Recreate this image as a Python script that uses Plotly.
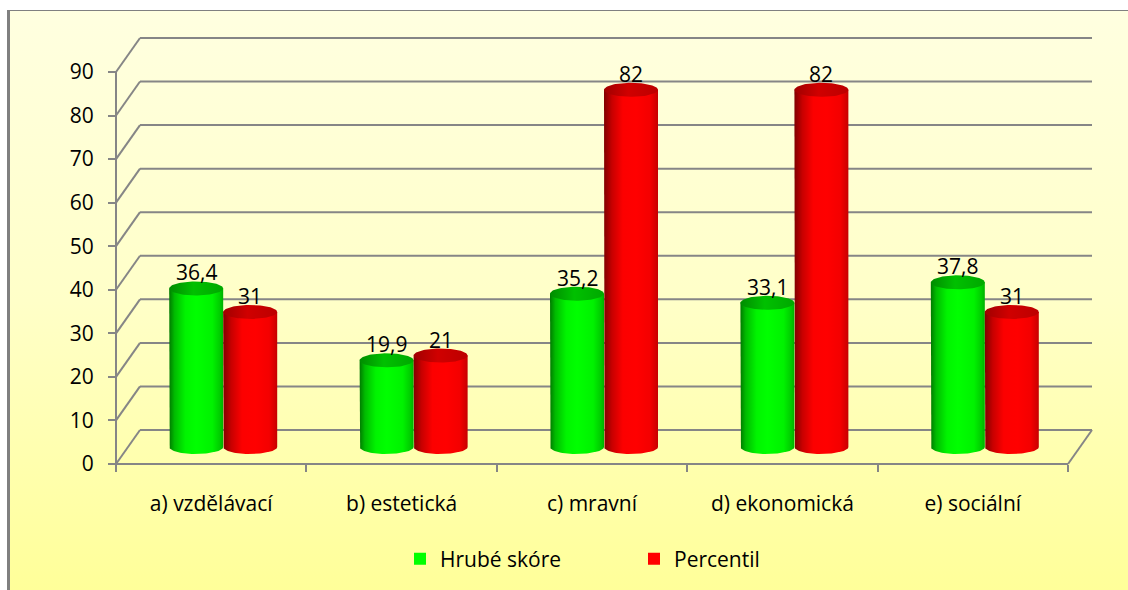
import numpy as np
import plotly.graph_objects as go

# ---- data -------------------------------------------------------------
categories = ["a) vzdělávací", "b) estetická", "c) mravní", "d) ekonomická", "e) sociální"]
hrube_skore = [36.4, 19.9, 35.2, 33.1, 37.8]
percentil = [31, 21, 82, 82, 31]
series_names = ["Hrubé skóre", "Percentil"]
y_ticks = [0, 10, 20, 30, 40, 50, 60, 70, 80, 90]

# ---- page / 3-D box geometry (pixels) ---------------------------------
W, H = 1128, 590
CAT_PX = 190.4          # width of one category along the front floor edge
UNIT_PX = 4.356         # pixels per value unit
FRONT_LEFT_PX = 116     # x of the front-left corner of the floor
FLOOR_PX = 464          # y of the front floor edge
DEPTH_DX_PX, DEPTH_DY_PX = 24, 34   # front -> back wall offset
PLOT_L, PLOT_R, PLOT_T, PLOT_B = 100, 1110, 0, 482
CYL_W_PX, CAP_RY_PX = 54, 7

GRID = "#868686"
FONT = dict(family="Open Sans, Lato, sans-serif", size=21, color="#000000")


def px_to_x(p):
    return -0.5 + (p - FRONT_LEFT_PX) / CAT_PX


def px_to_v(q):
    return (FLOOR_PX - q) / UNIT_PX


DX = DEPTH_DX_PX / CAT_PX
DY = DEPTH_DY_PX / UNIT_PX
RX = CYL_W_PX / CAT_PX / 2
RY = CAP_RY_PX / UNIT_PX
N = len(categories)

body_scales = [
    [[0, "#007a00"], [0.1, "#00bb00"], [0.3, "#00f400"], [0.5, "#00ff00"],
     [0.8, "#00f200"], [0.94, "#00cc00"], [1, "#00b000"]],
    [[0, "#800000"], [0.15, "#c80000"], [0.35, "#fc0000"], [0.6, "#ff0000"],
     [0.85, "#f40000"], [0.96, "#d40000"], [1, "#c40000"]],
]
cap_scales = [
    [[0, "#008c00"], [0.45, "#00c000"], [1, "#00a800"]],
    [[0, "#a00000"], [0.45, "#d00000"], [1, "#bc0000"]],
]
legend_colors = ["#00ff00", "#ff0000"]

fig = go.Figure()

# ---- page background (own full-page subplot, drawn first) -------------
bg_left, bg_top = 10, 11
fig.add_trace(go.Scatter(
    x=[bg_left, W, W, bg_left, bg_left],
    y=[0, 0, H - bg_top, H - bg_top, 0],
    mode="lines", line=dict(width=0), fill="toself",
    fillgradient=dict(type="vertical", start=0, stop=H - bg_top,
                      colorscale=[[0, "#ffff99"], [0.5, "#ffffc8"], [1, "#ffffe0"]]),
    hoverinfo="skip", showlegend=False, xaxis="x", yaxis="y",
))

# ---- cylinders --------------------------------------------------------
t_half = np.linspace(0, np.pi, 48)
t_full = np.linspace(0, 2 * np.pi, 96)
series_values = [hrube_skore, percentil]
for i in range(N):
    for s, values in enumerate(series_values):
        v = values[i]
        cx = i + DX / 2 + (s - 0.5) * 2 * RX
        base, top = DY / 2, v + DY / 2
        xb = np.concatenate([[cx - RX], cx - RX * np.cos(t_half), [cx + RX, cx - RX]])
        yb = np.concatenate([[top], base - RY * np.sin(t_half), [top, top]])
        fig.add_trace(go.Scatter(
            x=xb, y=yb, mode="lines", line=dict(width=0), fill="toself",
            fillgradient=dict(type="horizontal", start=cx - RX, stop=cx + RX,
                              colorscale=body_scales[s]),
            hoverinfo="skip", showlegend=False, xaxis="x2", yaxis="y2",
        ))
        fig.add_trace(go.Scatter(
            x=cx + RX * np.cos(t_full), y=top + RY * np.sin(t_full),
            mode="lines", line=dict(width=0), fill="toself",
            fillgradient=dict(type="horizontal", start=cx - RX, stop=cx + RX,
                              colorscale=cap_scales[s]),
            hoverinfo="skip", showlegend=False, xaxis="x2", yaxis="y2",
        ))
        fig.add_annotation(
            x=cx, y=top, xref="x2", yref="y2", yshift=16,
            text=f"{v:g}".replace(".", ","), showarrow=False, font=FONT,
        )

# legend entries
for name, color in zip(series_names, legend_colors):
    fig.add_trace(go.Bar(x=[None], y=[None], name=name, marker=dict(color=color, line=dict(width=0)),
                         xaxis="x2", yaxis="y2"))

# ---- walls, floor and gridlines ---------------------------------------
x_left, x_right = -0.5, N - 0.5
shapes = []
line = dict(color=GRID, width=2)
for v in y_ticks:
    shapes.append(dict(type="line", xref="x2", yref="y2", x0=x_left + DX, x1=x_right + DX,
                       y0=v + DY, y1=v + DY, line=line, layer="below"))
    shapes.append(dict(type="line", xref="x2", yref="y2", x0=x_left, x1=x_left + DX,
                       y0=v, y1=v + DY, line=line, layer="below"))
shapes.append(dict(type="line", xref="x2", yref="y2", x0=x_left, x1=x_right, y0=0, y1=0,
                   line=line, layer="below"))
shapes.append(dict(type="line", xref="x2", yref="y2", x0=x_right, x1=x_right + DX, y0=0, y1=DY,
                   line=line, layer="below"))
shapes.append(dict(type="line", xref="x2", yref="y2", x0=x_left, x1=x_left, y0=0, y1=y_ticks[-1],
                   line=line, layer="below"))
# page border (top and left)
shapes.append(dict(type="line", xref="x", yref="y", x0=8, x1=W, y0=H - 10.5, y1=H - 10.5,
                   line=dict(color="#808080", width=1), layer="above"))
shapes.append(dict(type="line", xref="x", yref="y", x0=8.5, x1=8.5, y0=0, y1=H - 10,
                   line=dict(color="#808080", width=3), layer="above"))

fig.update_layout(
    width=W, height=H,
    margin=dict(l=0, r=0, t=0, b=0),
    paper_bgcolor="#ffffff",
    plot_bgcolor="rgba(0,0,0,0)",
    font=FONT,
    shapes=shapes,
    showlegend=True,
    legend=dict(orientation="h", x=(406 - 6) / W, y=1 - 559 / H, xanchor="left", yanchor="middle",
                bgcolor="rgba(0,0,0,0)", font=FONT, itemwidth=30,
                entrywidth=189, entrywidthmode="pixels", traceorder="normal"),
    xaxis=dict(domain=[0, 1], range=[0, W], visible=False, fixedrange=True),
    yaxis=dict(domain=[0, 1], range=[0, H], visible=False, fixedrange=True),
    xaxis2=dict(
        domain=[PLOT_L / W, PLOT_R / W],
        range=[px_to_x(PLOT_L), px_to_x(PLOT_R)],
        anchor="free", position=1 - FLOOR_PX / H,
        tickmode="array", tickvals=list(range(N)), ticktext=categories,
        ticks="", ticklabelstandoff=25, tickfont=FONT,
        minor=dict(tickmode="array", tickvals=[k - 0.5 for k in range(N + 1)],
                   ticks="outside", ticklen=7, tickwidth=2, tickcolor=GRID, showgrid=False),
        showgrid=False, zeroline=False, showline=False, fixedrange=True,
    ),
    yaxis2=dict(
        domain=[1 - PLOT_B / H, 1 - PLOT_T / H],
        range=[px_to_v(PLOT_B), px_to_v(PLOT_T)],
        anchor="free", position=FRONT_LEFT_PX / W,
        tickmode="array", tickvals=y_ticks,
        ticks="outside", ticklen=8, tickwidth=2, tickcolor=GRID,
        ticklabelstandoff=10, tickfont=FONT,
        showgrid=False, zeroline=False, showline=False, fixedrange=True,
    ),
)

fig.write_html("out.html")
